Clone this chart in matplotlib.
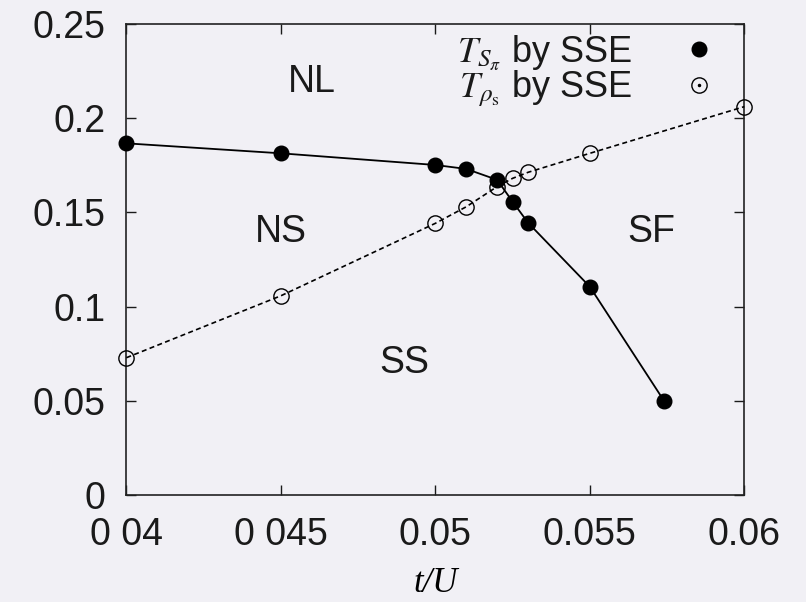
import matplotlib
matplotlib.use('Agg')
import matplotlib.pyplot as plt
from matplotlib.lines import Line2D
from matplotlib.legend_handler import HandlerTuple

plt.rcParams['font.family'] = ['Liberation Sans', 'DejaVu Sans']
plt.rcParams['mathtext.fontset'] = 'stix'

# T_S_pi by SSE (filled circles)
ts_x = [0.04, 0.045, 0.05, 0.051, 0.052, 0.0525, 0.053, 0.055, 0.0574]
ts_y = [0.1867, 0.1814, 0.1752, 0.1731, 0.1673, 0.1557, 0.1445, 0.1105, 0.0499]

# T_rho_s by SSE (open circles)
tr_x = [0.04, 0.045, 0.05, 0.051, 0.052, 0.0525, 0.053, 0.055, 0.06]
tr_y = [0.0728, 0.1057, 0.1442, 0.1530, 0.1637, 0.1681, 0.1713, 0.1814, 0.2062]

xticks = [0.04, 0.045, 0.05, 0.055, 0.06]
xtick_labels = ['0 04', '0 045', '0.05', '0.055', '0.06']
yticks = [0, 0.05, 0.1, 0.15, 0.2, 0.25]
ytick_labels = ['0', '0.05', '0.1', '0.15', '0.2', '0.25']

regions = ['NL', 'NS', 'SS', 'SF']
region_x = [0.046, 0.045, 0.049, 0.057]
region_y = [0.2194, 0.1397, 0.0698, 0.1397]

bg = '#f1f0f5'
fig = plt.figure(figsize=(8.06, 6.02), dpi=100, facecolor=bg)
ax = fig.add_axes([0.1568, 0.1782, 0.7667, 0.7816], facecolor=bg)

ax.plot(tr_x, tr_y, color='black', lw=1.2, ls=(0, (3, 2)), marker='o',
        ms=11, mfc='none', mec='black', mew=1.0, clip_on=False, zorder=3)
ax.plot(ts_x, ts_y, color='black', lw=1.3, marker='o',
        ms=10.5, mfc='black', mec='black', clip_on=False, zorder=4)

for name, rx, ry in zip(regions, region_x, region_y):
    ax.text(rx, ry, name, fontsize=27, ha='center', va='center', color='#1a1a1a')

ax.set_xlim(0.04, 0.06)
ax.set_ylim(0, 0.25)
ax.set_xticks(xticks)
ax.set_xticklabels(xtick_labels)
ax.set_yticks(yticks)
ax.set_yticklabels(ytick_labels)
ax.tick_params(direction='in', length=7, width=1.0, top=True, right=True,
               labelsize=27, colors='#1a1a1a')
ax.tick_params(axis='x', pad=16)
ax.tick_params(axis='y', pad=15)
for s in ax.spines.values():
    s.set_linewidth(1.2)
    s.set_color('#222222')

ax.set_xlabel('t/U', family='Liberation Serif', style='italic', fontsize=25, labelpad=10)

h_filled = Line2D([], [], ls='none', marker='o', ms=10.5, mfc='black', mec='black')
h_open = Line2D([], [], ls='none', marker='o', ms=11, mfc='none', mec='black', mew=1.0)
h_dot = Line2D([], [], ls='none', marker='o', ms=1.5, mfc='black', mec='black')
leg = ax.legend([h_filled, (h_open, h_dot)],
                [r'$T_{S_{\pi}}$ by SSE', r'$T_{\rho_{\mathrm{s}}}$ by SSE'],
                handler_map={tuple: HandlerTuple(ndivide=1, pad=0)},
                loc='upper right', bbox_to_anchor=(0.997, 1.035), frameon=False,
                markerfirst=False, fontsize=26, handlelength=1.0,
                handletextpad=1.35, labelspacing=-0.1, borderpad=0.2)
for t in leg.get_texts():
    t.set_color('#1a1a1a')

fig.savefig('out.png', dpi=100, facecolor=bg)
